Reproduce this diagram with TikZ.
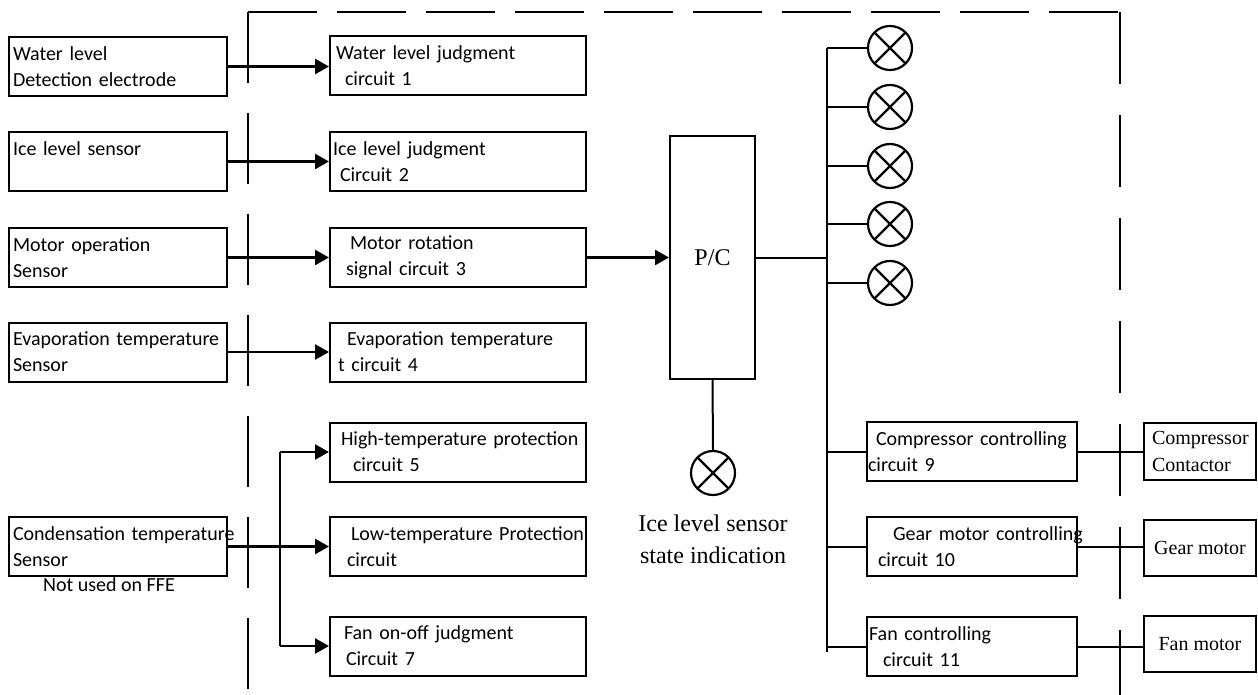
\documentclass[tikz,border=0pt]{standalone}
\usepackage{fontspec}
\setmainfont{Liberation Serif}
\newfontfamily\calfont{Carlito}
\usetikzlibrary{arrows.meta}
\tikzset{
  box/.style={draw, line width=2pt, rectangle, minimum height=59pt, inner xsep=0pt, inner ysep=0pt,
    align=left, font=\calfont\fontsize{20}{26}\selectfont},
  lbox/.style={box, minimum width=218pt, text width=210pt, inner xsep=4pt},
  mbox/.style={box, minimum width=256pt, text width=256pt},
  cbox/.style={box, minimum width=210pt, text width=210pt},
  rbox/.style={draw, line width=2pt, rectangle, minimum width=112pt, inner sep=0pt,
    font=\fontsize{20}{27}\selectfont},
  pcbox/.style={draw, line width=2pt, rectangle, minimum width=85pt, minimum height=243pt, inner sep=0pt,
    font=\fontsize{24}{28}\selectfont},
  lamp/.style={circle, draw, line width=2.2pt, minimum size=44pt, inner sep=0pt,
    path picture={\draw[line width=2.2pt] (path picture bounding box.north west) -- (path picture bounding box.south east)
      (path picture bounding box.north east) -- (path picture bounding box.south west);}},
  arr/.style={line width=2.6pt, -{Triangle[length=14pt,width=15pt]}},
  ln/.style={line width=2pt},
  dsh/.style={line width=2pt},
}
\begin{document}
\begin{tikzpicture}[x=1pt,y=-1pt]
\useasboundingbox (0,0) rectangle (1258,695);
% left column
\node[lbox] (A) at (118,66.5) {Water level\\Detection electrode};
\node[lbox] (B) at (118,161.5) {Ice level sensor\\\mbox{}};
\node[lbox] (C) at (118,257.5) {Motor operation\\Sensor};
\node[lbox] (D) at (118,352) {Evaporation temperature\\Sensor};
\node[lbox] (E) at (118,546.5) {\mbox{Condensation temperature}\\Sensor};
\node[anchor=west, inner sep=0pt, font=\calfont\fontsize{20}{26}\selectfont] (nu) at (43,585) {Not used on FFE};
% middle column
\node[mbox] (b1) at (458,65.5) {\hspace*{6pt}Water level judgment\\\hspace*{15pt}circuit 1};
\node[mbox] (b2) at (458,161.5) {\hspace*{3pt}Ice level judgment\\\hspace*{10pt}Circuit 2};
\node[mbox] (b3) at (458,257.5) {\hspace*{20pt}Motor rotation\\\hspace*{16pt}signal circuit 3};
\node[mbox] (b4) at (458,352) {\hspace*{17pt}Evaporation temperature\\\hspace*{8pt}t circuit 4};
\node[mbox] (b5) at (458,452) {\hspace*{11pt}\mbox{High-temperature protection}\\\hspace*{23pt}circuit 5};
\node[mbox] (b6) at (458,546.5) {\hspace*{21pt}\mbox{Low-temperature Protection}\\\hspace*{17pt}circuit};
\node[mbox] (b7) at (458,646) {\hspace*{14pt}Fan on-off judgment\\\hspace*{16pt}Circuit 7};
% P/C
\node[pcbox] (pc) at (712.5,257.5) {P/C};
\node[lamp] (L0) at (713,473) {};
\node[align=center, inner sep=0pt, font=\fontsize{24}{32}\selectfont] (lt) at (713,539) {Ice level sensor\\state indication};
% lamps
\node[lamp] (L1) at (890,48) {};
\node[lamp] (L2) at (890,107) {};
\node[lamp] (L3) at (890,166) {};
\node[lamp] (L4) at (890,224) {};
\node[lamp] (L5) at (890,283) {};
% control boxes
\node[cbox] (c9) at (972,451.5) {\hspace*{9pt}Compressor controlling\\\hspace*{1pt}circuit 9};
\node[cbox] (c10) at (972,546.5) {\hspace*{26pt}\mbox{Gear motor controlling}\\\hspace*{11pt}circuit 10};
\node[cbox] (c11) at (972,646.5) {\hspace*{2pt}Fan controlling\\\hspace*{16pt}circuit 11};
% right boxes
\node[rbox, minimum height=57pt, align=left, text width=112pt, inner xsep=0pt] (r9) at (1200,451.5) {\hspace*{8pt}\mbox{Compressor}\\\hspace*{8pt}\mbox{Contactor}};
\node[rbox, minimum height=56pt] (r10) at (1200,548) {Gear motor};
\node[rbox, minimum height=56pt] (r11) at (1200,644) {Fan motor};
% bus
\coordinate (bus) at (827,48);
\coordinate (busb) at (827,652);
\coordinate (jn) at (280,546.5);
% dashed boundary
\draw[dsh, dash pattern=on 71pt off 30pt] (248,12) -- (248,695);
\draw[dsh, dash pattern=on 69pt off 20pt] (248,12) -- (1120,12);
\draw[dsh, dash pattern=on 72pt off 31pt] (1120,12) -- (1120,695);
% input arrows
\draw[arr] (A.east) -- (A.east -| b1.west);
\draw[arr] (B.east) -- (b2.west);
\draw[arr] (C.east) -- (b3.west);
\draw[arr] (D.east) -- (b4.west);
\draw[arr] (E.east) -- (b6.west);
\draw[ln] (jn |- b5.west) -- (jn |- b7.west);
\draw[arr] (jn |- b5.west) -- (b5.west);
\draw[arr] (jn |- b7.west) -- (b7.west);
% P/C
\draw[arr] (b3.east) -- (pc.west);
\draw[ln] (pc.east) -- (bus |- pc.east);
\draw[ln] (pc.south) -- (L0.north);
\draw[ln] (bus) -- (busb);
\draw[ln] (bus |- L1) -- (L1.west);
\draw[ln] (bus |- L2) -- (L2.west);
\draw[ln] (bus |- L3) -- (L3.west);
\draw[ln] (bus |- L4) -- (L4.west);
\draw[ln] (bus |- L5) -- (L5.west);
\draw[ln] (bus |- c9.west) -- (c9.west);
\draw[ln] (bus |- c10.west) -- (c10.west);
\draw[ln] (bus |- c11.west) -- (c11.west);
\draw[ln] (c9.east) -- (c9.east -| r9.west);
\draw[ln] (c10.east) -- (c10.east -| r10.west);
\draw[ln] (c11.east) -- (c11.east -| r11.west);
\end{tikzpicture}
\end{document}
